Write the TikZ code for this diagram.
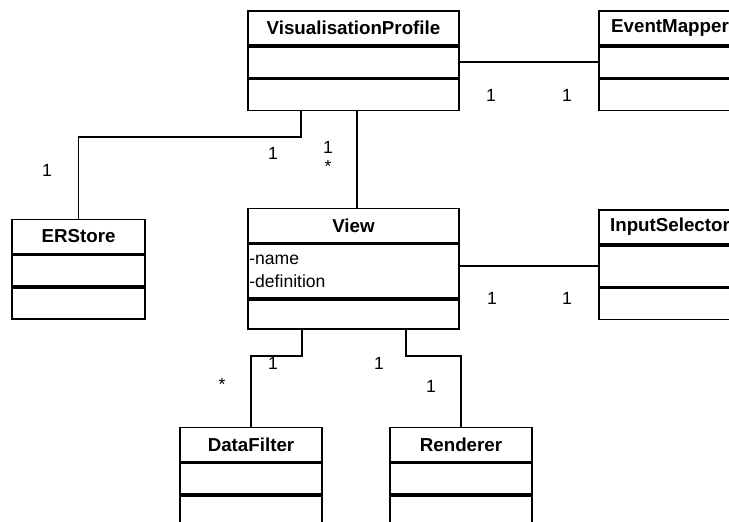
\documentclass[tikz,border=0pt]{standalone}
\usepackage{fontspec}
\setmainfont{Liberation Sans}
\usetikzlibrary{positioning}

\begin{document}
\begin{tikzpicture}[
        x=0.03cm, y=-0.03cm,
        font=\fontsize{15}{19.5}\selectfont,
        ctitle/.style={rectangle, draw, fill=white, minimum width=#1,
          minimum height=1.03cm, inner sep=0pt, line width=1.4pt,
          font=\fontsize{16}{18}\selectfont\bfseries},
        cpart/.style={rectangle, draw, fill=white, minimum width=#1,
          minimum height=0.93cm, inner sep=0pt, line width=1.4pt},
        link/.style={draw, line width=1.4pt},
        mult/.style={inner sep=0pt}
      ]
      \useasboundingbox (0,0) rectangle (729,521);
      \clip (0,0) rectangle (729,521);

      % Classes
      \node [ctitle=6.33cm] (vp) at (353.5, 28) {VisualisationProfile};
      \node [cpart=6.33cm, below=0pt of vp] (vp_attr) {};
      \node [cpart=6.33cm, below=0pt of vp_attr] (vp_op) {};

      \node [ctitle=4.26cm] (em) at (670, 28) {EventMapper};
      \node [cpart=4.26cm, below=0pt of em] (em_attr) {};
      \node [cpart=4.26cm, below=0pt of em_attr] (em_op) {};

      \node [ctitle=3.99cm] (ers) at (78.5, 236.5) {ERStore};
      \node [cpart=3.99cm, below=0pt of ers] (ers_attr) {};
      \node [cpart=3.99cm, below=0pt of ers_attr] (ers_op) {};

      \node [ctitle=6.33cm] (view) at (353.5, 225.5) {View};
      \node [cpart=6.33cm, below=0pt of view, minimum height=1.62cm,
        text width=6.25cm, align=left] (view_attr) {-name\\-definition};
      \node [cpart=6.33cm, below=0pt of view_attr, minimum height=0.87cm]
      (view_op) {};

      \node [ctitle=4.26cm] (insel) at (670, 227) {InputSelector};
      \node [cpart=4.26cm, below=0pt of insel, minimum height=1.23cm]
      (insel_attr) {};
      \node [cpart=4.26cm, below=0pt of insel_attr] (insel_op) {};

      \node [ctitle=4.26cm] (df) at (251, 444.5) {DataFilter};
      \node [cpart=4.26cm, below=0pt of df] (df_attr) {};
      \node [cpart=4.26cm, below=0pt of df_attr] (df_op) {};

      \node [ctitle=4.26cm] (rend) at (461, 444.5) {Renderer};
      \node [cpart=4.26cm, below=0pt of rend] (rend_attr) {};
      \node [cpart=4.26cm, below=0pt of rend_attr] (rend_op) {};

      % Associations
      \path [link] (vp_attr.east) -- (vp_attr.east -| em_attr.west);
      \path [link] (vp_op.south west) ++(54,0) -- ++(0,26) -| (ers.north);
      \path [link] (vp_op.south) ++(3.5,0) -- (view.north -| 357,0);
      \path [link] (view_attr.east |- insel_attr.west) -- (insel_attr.west);
      \path [link] (view_op.south west) ++(55,0) -- ++(0,26) -| (df.north);
      \path [link] (view_op.south west) ++(159,0) -- ++(0,26) -| (rend.north);

      % Multiplicities
      \node [mult] (m_vp_em) at (491, 95) {1};
      \node [mult] (m_em_vp) at (567, 95) {1};
      \node [mult] (m_ers_vp) at (47, 170) {1};
      \node [mult] (m_vp_ers) at (273, 153) {1};
      \node [mult] (m_vp_view) at (328, 147) {1};
      \node [mult] (m_view_vp) at (328, 166) {*};
      \node [mult] (m_view_in) at (492, 298) {1};
      \node [mult] (m_in_view) at (567, 298) {1};
      \node [mult] (m_df_view) at (222, 384) {*};
      \node [mult] (m_view_df) at (273, 363) {1};
      \node [mult] (m_view_rend) at (379, 363) {1};
      \node [mult] (m_rend_view) at (431, 386) {1};

    \end{tikzpicture}
\end{document}
